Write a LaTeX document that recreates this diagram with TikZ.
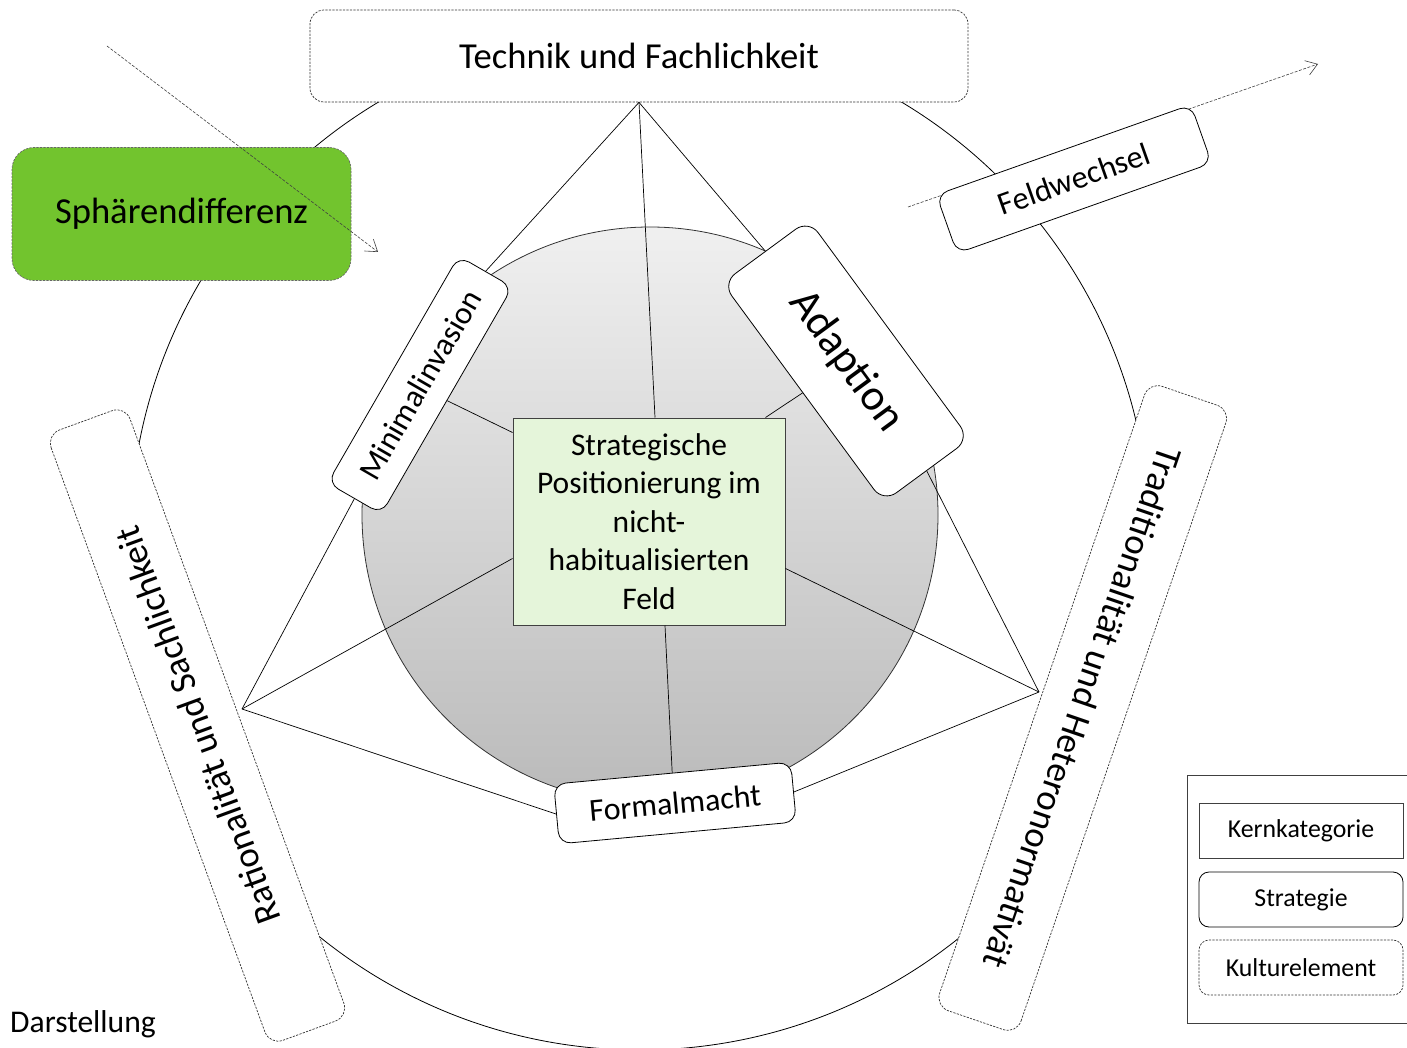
\documentclass[tikz,border=0pt]{standalone}
\usepackage{fontspec}
\setmainfont{Carlito}
\usetikzlibrary{arrows.meta,calc}
\definecolor{sgreen}{HTML}{72C42E}
\definecolor{cgreen}{HTML}{E5F5DA}
\definecolor{lgray}{HTML}{404040}
\tikzset{
 kultur/.style={draw=black!80, line width=0.7pt, dash pattern=on 2.2pt off 1.3pt, rounded corners=14pt, fill=white, inner sep=0pt},
 strat/.style={draw=black, line width=0.8pt, rounded corners=12pt, fill=white, inner sep=0pt},
 kern/.style={draw=lgray, line width=1pt, fill=cgreen, inner sep=0pt},
 conn/.style={draw=black, line width=0.7pt},
 flow/.style={draw=black!75, line width=0.6pt, dash pattern=on 3pt off 1.5pt, -{Straight Barb[length=11pt,width=15pt,line width=0.6pt]}},
 bigfont/.style={font=\fontsize{36.6}{44}\selectfont},
 midfont/.style={font=\fontsize{32}{38}\selectfont},
 legfont/.style={font=\fontsize{25.8}{30}\selectfont},
}
\begin{document}
\begin{tikzpicture}[x=1pt,y=-1pt]
\useasboundingbox (0,0) rectangle (1407,1048);
% outer circle
\draw[line width=0.8pt] (640,540) circle (510);
% Feldwechsel arrow (behind its box)
\coordinate (fw1) at (908,207);
\coordinate (fw2) at (1318,64);
\draw[flow] (fw1) -- (fw2);
% Kulturelemente
\node[kultur, bigfont, minimum width=658, minimum height=92] (tech) at (639,56) {Technik und Fachlichkeit};
\node[kultur, bigfont, fill=sgreen, draw=black!60, rounded corners=22pt, minimum width=339, minimum height=133] (sph) at (181.5,214) {Sphärendifferenz};
\node[kultur, bigfont, rotate=110.1, minimum width=650, minimum height=84] (rat) at (197.5,725.5) {Rationalität und Sachlichkeit};
\node[kultur, bigfont, rotate=-108.9, minimum width=660, minimum height=86] (trad) at (1082.75,708) {Traditionalität und Heteronormativät};
% sphere
\shade[top color=black!6, bottom color=black!27] (650,515) circle (288);
\draw[line width=0.8pt, black!80] (650,515) circle (288);
% core
\node[kern, minimum width=272, minimum height=207, align=center, font=\fontsize{31.5}{38.6}\selectfont] (core) at (649,521.5) {Strategische\\Positionierung im\\nicht-\\habitualisierten\\Feld};
% strategies
\node[strat, midfont, rotate=60, minimum width=262, minimum height=62] (mini) at (420,385) {Minimalinvasion};
\node[strat, rotate=-53.7, minimum width=272, minimum height=107, rounded corners=16pt, font=\fontsize{44}{50}\selectfont] (adapt) at (846,361) {Adaption};
\node[strat, midfont, rotate=5.3, minimum width=238, minimum height=60] (form) at (675,803) {Formalmacht};
\node[strat, midfont, rotate=19.5, minimum width=270, minimum height=62] (feld) at (1074,179) {Feldwechsel};
% vertices
\coordinate (L) at (242,709);
\coordinate (R) at (1039,692);
% connectors
\draw[conn] (tech.south) -- (mini.east);
\draw[conn] (tech.south) -- ([xshift=6pt]core.north);
\draw[conn] (tech.south) -- (adapt.west);
\draw[conn] (mini.south) -- ([yshift=89pt]core.west);
\draw[conn] (mini.west) -- (L);
\draw[conn] (L) -- ([yshift=-37pt]core.west);
\draw[conn] (L) -- (form.west);
\draw[conn] (adapt.south) -- ([xshift=-20pt]core.north east);
\draw[conn] (adapt.east) -- (R);
\draw[conn] (R) -- ([yshift=-47pt]core.east);
\draw[conn] (R) -- (form.east);
\draw[conn] ([xshift=16pt]core.south) -- (form.north);
% Sphaerendifferenz arrow
\coordinate (sa1) at (107,46);
\coordinate (sa2) at (378,252);
\draw[flow] (sa1) -- (sa2);
% legend
\draw[lgray, line width=1pt] (1407,775) -- (1187,775) -- (1187,1023) -- (1407,1023);
\node[draw=lgray, line width=1pt, fill=white, inner sep=0pt, minimum width=204, minimum height=55, legfont] (lk) at (1301,830.5) {Kernkategorie};
\node[strat, legfont, minimum width=204, minimum height=55, rounded corners=10pt] (ls) at (1301,899.5) {Strategie};
\node[kultur, legfont, minimum width=204, minimum height=55, rounded corners=10pt] (lc) at (1301,967.5) {Kulturelement};
% source
\node[anchor=base west, inner sep=0pt, font=\fontsize{31.6}{38}\selectfont] (src) at (10,1032) {Darstellung};
\end{tikzpicture}
\end{document}
